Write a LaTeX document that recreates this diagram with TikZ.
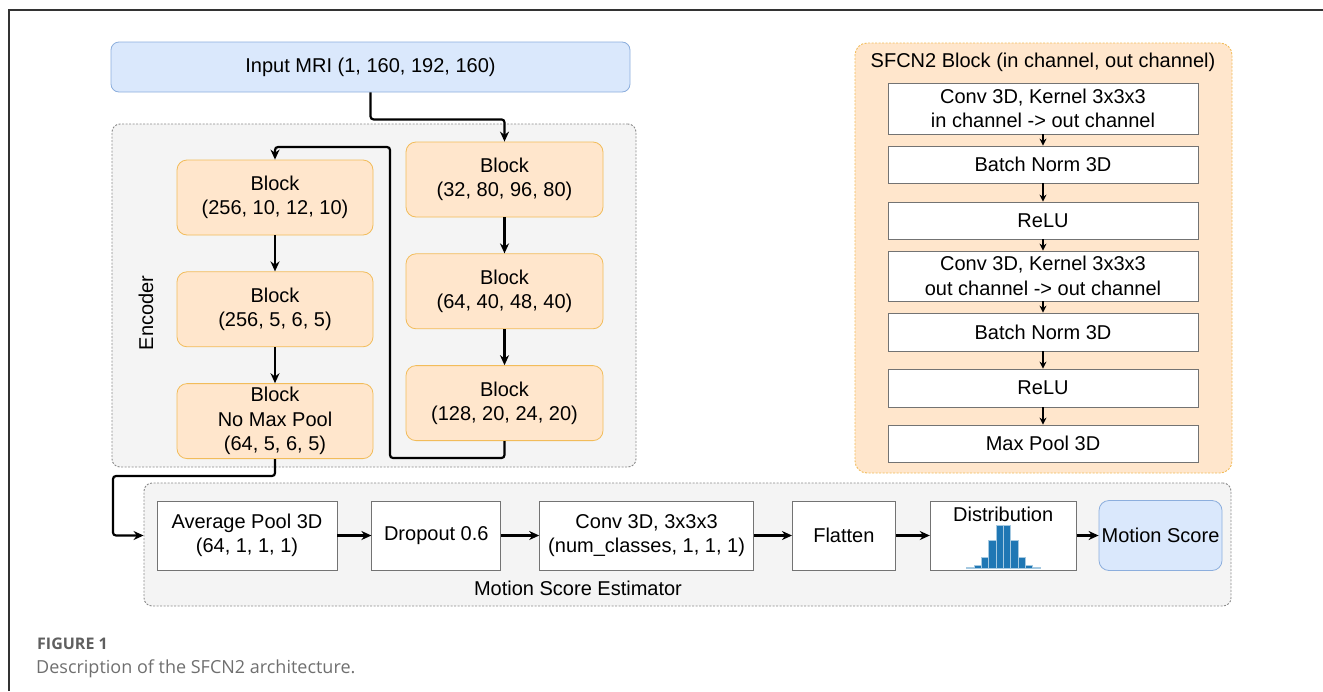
\documentclass[tikz,border=0pt]{standalone}
\usepackage{fontspec}
\setmainfont{Liberation Sans}
\newfontfamily\capfont{Open Sans}
\usetikzlibrary{positioning,arrows.meta}
\definecolor{blufill}{HTML}{DAE8FC}
\definecolor{bludraw}{HTML}{8CAEDD}
\definecolor{orfill}{HTML}{FFE6CC}
\definecolor{ordraw}{HTML}{F2BC5A}
\definecolor{grpfill}{HTML}{F4F4F4}
\definecolor{grpdraw}{HTML}{8A8A8A}
\definecolor{barblue}{HTML}{1F77B4}
\definecolor{capgray}{HTML}{5F5F5F}

\begin{document}
\begin{tikzpicture}[x=1pt, y=-1pt,
  every node/.style={font=\fontsize{20}{24.5}\selectfont, align=center, inner sep=1pt},
  Grp/.style={draw=grpdraw, fill=grpfill, dash pattern=on 2pt off 1.5pt, rounded corners=8pt, line width=0.9pt},
  Blk/.style={draw=ordraw, fill=orfill, rounded corners=10pt, minimum width=196pt, minimum height=75pt, line width=0.8pt},
  Wb/.style={draw=black!55, fill=white, minimum width=310pt, line width=0.8pt},
  Mb/.style={draw=black!55, fill=white, minimum height=69pt, line width=0.8pt},
  Bb/.style={draw=bludraw, fill=blufill, rounded corners=10pt, line width=0.8pt},
  Ar/.style={-{Stealth[length=10pt,width=9pt]}, line width=2.2pt, rounded corners=3pt},
  Sa/.style={-{Stealth[length=7pt,width=7pt]}, line width=2pt}]
\useasboundingbox (0,0) rectangle (1323,691);
\draw[line width=1.3pt, draw=black!80] (9,691) -- (9,10) -- (1323,10);

% containers
\node[Grp, minimum width=524pt, minimum height=343pt] at (374,295.5) (enc) {};
\node[Grp, minimum width=1087pt, minimum height=123pt] at (687.5,544.5) (mse) {};
\node[Grp, draw=ordraw, fill=orfill, rounded corners=12pt, minimum width=377pt, minimum height=430pt] at (1043.5,258) (sfcn) {};

\node[Bb, rounded corners=8pt, minimum width=519pt, minimum height=50pt] at (370.5,67) (inp) {Input MRI (1, 160, 192, 160)};
\node[rotate=90] at (146,313) (enclbl) {Encoder};

% encoder blocks
\node[Blk, minimum width=197pt] at (504.5,179.5) (r1) {Block\\(32, 80, 96, 80)};
\node[Blk, minimum width=197pt, below=36pt of r1] (r2) {Block\\(64, 40, 48, 40)};
\node[Blk, minimum width=197pt, below=36pt of r2] (r3) {Block\\(128, 20, 24, 20)};
\node[Blk] at (275,197.5) (l1) {Block\\(256, 10, 12, 10)};
\node[Blk, below=36pt of l1] (l2) {Block\\(256, 5, 6, 5)};
\node[Blk, below=36pt of l2] (l3) {Block\\No Max Pool\\(64, 5, 6, 5)};

% sfcn2 block
\node at (1043,62) (sttl) {SFCN2 Block (in channel, out channel)};
\node[Wb, minimum height=51pt] at (1043,108.5) (s1) {Conv 3D, Kernel 3x3x3\\in channel -> out channel};
\node[Wb, minimum height=37pt] at (1043,164.5) (s2) {Batch Norm 3D};
\node[Wb, minimum height=37pt] at (1043,220.5) (s3) {ReLU};
\node[Wb, minimum height=50pt] at (1043,276) (s4) {Conv 3D, Kernel 3x3x3\\out channel -> out channel};
\node[Wb, minimum height=38pt] at (1043,332) (s5) {Batch Norm 3D};
\node[Wb, minimum height=38pt] at (1043,388) (s6) {ReLU};
\node[Wb, minimum height=37pt] at (1043,443.5) (s7) {Max Pool 3D};

% motion score estimator
\node[Mb, minimum width=180pt] at (247,535.5) (avg) {Average Pool 3D\\(64, 1, 1, 1)};
\node[Mb, minimum width=129pt, right=34pt of avg] (drop) {Dropout 0.6};
\node[Mb, minimum width=214pt, right=38pt of drop] (conv) {Conv 3D, 3x3x3\\(num\_classes, 1, 1, 1)};
\node[Mb, minimum width=103pt, right=38pt of conv] (flat) {Flatten};
\node[Mb, minimum width=146pt, right=34pt of flat] (dist) {};
\node[below=5pt of dist.north] (distl) {Distribution};
\node[Bb, minimum width=123pt, minimum height=70pt, right=22pt of dist] (ms) {Motion Score};
\node at (578,588) (msel) {Motion Score Estimator};
\begin{scope}[shift={(dist.south)}]
\foreach \h [count=\i] in {1,2.7,11,27.7,42.7,42.7,27.7,11,2.7,1}
  \draw[draw=barblue!40, fill=barblue, line width=0.5pt] (\i*7.33-44,-2) rectangle ++(7.33,-\h);
\end{scope}

\node[anchor=west, font=\capfont\bfseries\fontsize{16}{19}\selectfont, text=capgray] at (36,644) (fig) {FIGURE 1};
\node[anchor=west, font=\capfont\fontsize{18}{21}\selectfont, text=capgray!90] at (35,669) (cap) {Description of the SFCN2 architecture.};

\coordinate (bend) at (113,535.5);
\draw[Ar] (inp.south) -- ++(0,27) -| (r1.north);
\draw[Ar] (r1) -- (r2);
\draw[Ar] (r2) -- (r3);
\draw[Ar] (r3.south) -- ++(0,17) -| (390,147) -| (l1.north);
\draw[Ar] (l1) -- (l2);
\draw[Ar] (l2) -- (l3);
\draw[Ar] (l3.south) -- ++(0,17) -| (bend) -- (mse.west |- bend);

\draw[Sa] (s1) -- (s2);
\draw[Sa] (s2) -- (s3);
\draw[Sa] (s3) -- (s4);
\draw[Sa] (s4) -- (s5);
\draw[Sa] (s5) -- (s6);
\draw[Sa] (s6) -- (s7);

\draw[Ar] (avg) -- (drop);
\draw[Ar] (drop) -- (conv);
\draw[Ar] (conv) -- (flat);
\draw[Ar, line width=3pt] (flat) -- (dist);
\draw[Ar, line width=2.6pt] (dist) -- (ms);
\end{tikzpicture}
\end{document}
